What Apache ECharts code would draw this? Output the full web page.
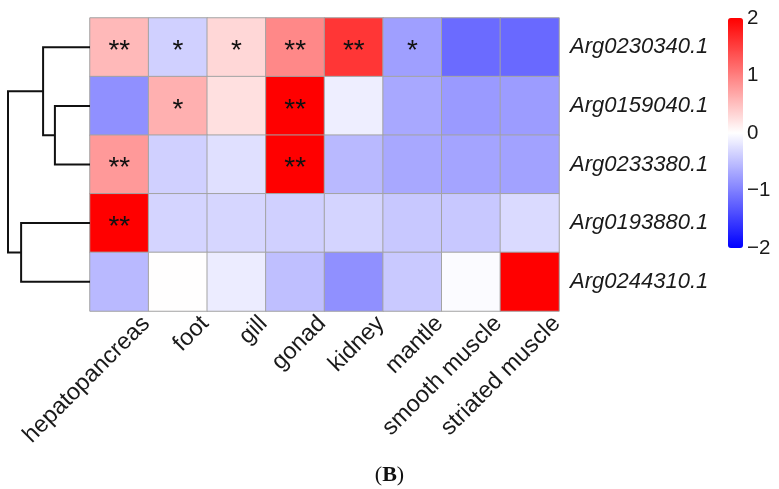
<!DOCTYPE html>
<html>
<head>
<meta charset="utf-8">
<script src="https://cdn.jsdelivr.net/npm/echarts@6/dist/echarts.min.js"></script>
<style>html,body{margin:0;padding:0;background:#fff}#c{width:779px;height:489px}</style>
</head>
<body>
<div id="c"></div>
<script>
// ---- data ----
const genes = ['Arg0230340.1', 'Arg0159040.1', 'Arg0233380.1', 'Arg0193880.1', 'Arg0244310.1'];
const tissues = ['hepatopancreas', 'foot', 'gill', 'gonad', 'kidney', 'mantle', 'smooth muscle', 'striated muscle'];
const valArg0230340 = [0.55, -0.37, 0.31, 0.93, 1.58, -0.75, -1.16, -1.18];
const valArg0159040 = [-0.87, 0.62, 0.24, 2.0, -0.13, -0.68, -0.79, -0.78];
const valArg0233380 = [0.80, -0.37, -0.24, 2.0, -0.55, -0.68, -0.71, -0.73];
const valArg0193880 = [2.0, -0.34, -0.32, -0.37, -0.34, -0.43, -0.43, -0.29];
const valArg0244310 = [-0.55, 0.01, -0.15, -0.50, -0.87, -0.42, -0.03, 2.0];
const sigArg0230340 = ['**', '*', '*', '**', '**', '*', '', ''];
const sigArg0159040 = ['', '*', '', '**', '', '', '', ''];
const sigArg0233380 = ['**', '', '', '**', '', '', '', ''];
const sigArg0193880 = ['**', '', '', '', '', '', '', ''];
const sigArg0244310 = ['', '', '', '', '', '', '', ''];
// dendrogram merges: [childA, childB, height]; leaves 0..4 = gene rows, node 5+k = merge k
const dendroMerges = [[1, 2, 1.07], [0, 5, 1.43], [3, 4, 2.10], [6, 7, 2.50]];
const colorTicks = [-2, -1, 0, 1, 2];

// ---- build ----
const values = [valArg0230340, valArg0159040, valArg0233380, valArg0193880, valArg0244310];
const sigs = [sigArg0230340, sigArg0159040, sigArg0233380, sigArg0193880, sigArg0244310];
const heatData = [];
values.forEach((row, r) => row.forEach((v, c) => heatData.push([c, r, v])));

const nodeY = [], nodeH = [];
genes.forEach((g, i) => { nodeY[i] = i; nodeH[i] = 0; });
const dendroData = dendroMerges.map((m, k) => {
  const a = m[0], b = m[1], h = m[2];
  const id = genes.length + k;
  nodeY[id] = (nodeY[a] + nodeY[b]) / 2;
  nodeH[id] = h;
  return [nodeY[a], nodeH[a], nodeY[b], nodeH[b], h];
});

const FONT = 'Liberation Sans, Arial, sans-serif';
const GL = 90, GT = 18, GW = 469, GH = 293;

const chart = echarts.init(document.getElementById('c'), null, {renderer: 'canvas'});
chart.setOption({
  animation: false,
  backgroundColor: '#ffffff',
  title: {
    text: '{n|(}{b|B}{n|)}',
    left: 'center', top: 459,
    textStyle: {
      rich: {
        n: {fontFamily: 'Liberation Serif, serif', fontSize: 22, fontWeight: 'normal', color: '#111'},
        b: {fontFamily: 'Liberation Serif, serif', fontSize: 22, fontWeight: 'bold', color: '#111'}
      }
    }
  },
  grid: [
    {left: GL, top: GT, width: GW, height: GH, outerBoundsMode: 'none'},
    {left: 8, top: GT, width: GL - 8, height: GH, outerBoundsMode: 'none'},
    {left: GL + 27, top: GT, width: GW, height: GH, outerBoundsMode: 'none'},
    {left: 728, top: GT, width: 15, height: 230, outerBoundsMode: 'none'}
  ],
  xAxis: [
    {type: 'category', gridIndex: 0, data: tissues, axisLine: {show: false}, axisTick: {show: false}, axisLabel: {show: false}, splitLine: {show: false}},
    {type: 'value', gridIndex: 1, inverse: true, min: 0, max: 2.5, show: false},
    {type: 'category', gridIndex: 2, data: tissues, axisLine: {show: false}, axisTick: {show: false}, splitLine: {show: false},
      axisLabel: {interval: 0, rotate: 45, margin: 9, fontSize: 23.5, fontFamily: FONT, color: '#1a1a1a', hideOverlap: false}},
    {type: 'value', gridIndex: 3, show: false}
  ],
  yAxis: [
    {type: 'category', gridIndex: 0, data: genes, inverse: true, position: 'right',
      axisLine: {show: false}, axisTick: {show: false}, splitLine: {show: false},
      axisLabel: {interval: 0, margin: 11, fontSize: 22, fontStyle: 'italic', fontFamily: FONT, color: '#1a1a1a'}},
    {type: 'value', gridIndex: 1, inverse: true, min: -0.5, max: genes.length - 0.5, show: false},
    {type: 'value', gridIndex: 2, show: false},
    {type: 'value', gridIndex: 3, min: colorTicks[0], max: colorTicks[colorTicks.length - 1], interval: 1, position: 'right',
      axisLine: {show: false}, axisTick: {show: false}, splitLine: {show: false},
      axisLabel: {margin: 4, fontSize: 20.5, fontFamily: FONT, color: '#1a1a1a', formatter: v => String(v).replace('-', '\u2212')}}
  ],
  visualMap: {
    type: 'continuous', show: true, min: -2, max: 2, seriesIndex: 0,
    calculable: false, hoverLink: false, orient: 'vertical',
    left: 728, top: GT, itemWidth: 15, itemHeight: 230, padding: 0, text: null,
    inRange: {color: ['#0000ff', '#ffffff', '#ff0000']}
  },
  series: [
    {
      type: 'heatmap', xAxisIndex: 0, yAxisIndex: 0, data: heatData,
      itemStyle: {borderColor: '#a3a3a3', borderWidth: 1},
      emphasis: {disabled: true},
      label: {
        show: true, fontSize: 28, fontFamily: FONT, color: '#111', offset: [0, 4],
        formatter: p => sigs[p.data[1]][p.data[0]]
      }
    },
    {
      type: 'custom', xAxisIndex: 1, yAxisIndex: 1, data: dendroData, silent: true, clip: false,
      renderItem: (params, api) => {
        const yA = api.value(0), hA = api.value(1), yB = api.value(2), hB = api.value(3), h = api.value(4);
        const p1 = api.coord([hA, yA]), p2 = api.coord([h, yA]), p3 = api.coord([h, yB]), p4 = api.coord([hB, yB]);
        return {type: 'polyline', shape: {points: [p1, p2, p3, p4]}, style: {stroke: '#111', lineWidth: 2, fill: null}};
      }
    }
  ]
});
</script>
</body>
</html>
